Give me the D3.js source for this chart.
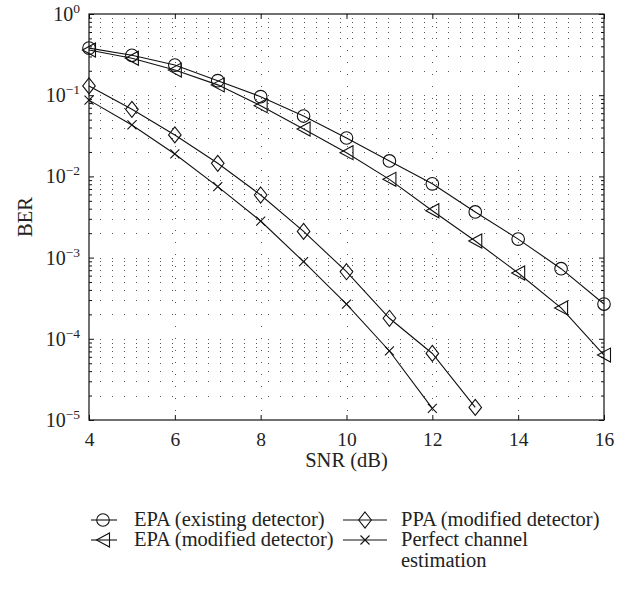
<!DOCTYPE html>
<html>
<head>
<meta charset="utf-8">
<script src="https://cdn.jsdelivr.net/npm/d3@7"></script>
<style>
html,body{margin:0;padding:0;background:#fff;}
svg{display:block;}
text{font-family:"Liberation Serif","Times New Roman",serif;fill:#222;}
</style>
</head>
<body>
<svg id="chart" width="632" height="592"></svg>
<script>
// ---- data ----
const snr = [4,5,6,7,8,9,10,11,12,13,14,15,16];
const epaExisting = [0.38,0.31,0.235,0.151,0.096,0.0554,0.0297,0.0155,0.0081,0.00365,0.00169,0.00073,0.000268];
const epaModified = [0.36,0.285,0.204,0.134,0.0743,0.0383,0.0196,0.0092,0.00378,0.0016,0.000646,0.00024,0.000063];
const ppaModified = [0.13,0.067,0.0324,0.0145,0.0059,0.0021,0.00067,0.000179,0.000066,0.0000143];
const perfect = [0.087,0.043,0.0189,0.00747,0.00282,0.00089,0.000268,0.0000708,0.0000139];
const xTicks = [4,6,8,10,12,14,16];
const yExponents = [0,-1,-2,-3,-4,-5];
const seriesNames = ["EPA (existing detector)","EPA (modified detector)","PPA (modified detector)","Perfect channel estimation"];
const xLabel = "SNR (dB)";
const yLabel = "BER";

const series = [
  {name: seriesNames[0], values: epaExisting, marker: "circle"},
  {name: seriesNames[1], values: epaModified, marker: "triangle"},
  {name: seriesNames[2], values: ppaModified, marker: "diamond"},
  {name: seriesNames[3], values: perfect, marker: "cross"}
];

// ---- layout ----
const L = 89, R = 604, T = 14, B = 420;
const svg = d3.select("#chart");
const x = d3.scaleLinear().domain([4,16]).range([L,R]);
const y = d3.scaleLog().domain([1e-5,1]).range([B,T]);

// grid
const minorVals = [];
for (let e=-5; e<0; e++) for (let m=1; m<=9; m++) minorVals.push(m*Math.pow(10,e));
const grid = svg.append("g").attr("stroke","#555").attr("stroke-width",1)
  .attr("stroke-dasharray","1,11").attr("fill","none");
grid.selectAll("line.h").data(minorVals.filter(v=>v>1e-5)).enter().append("line")
  .attr("x1",L+11).attr("x2",R).attr("y1",d=>Math.round(y(d))+0.5).attr("y2",d=>Math.round(y(d))+0.5);
grid.selectAll("line.v").data(xTicks.slice(1,-1)).enter().append("line")
  .attr("x1",d=>Math.round(x(d))+0.5).attr("x2",d=>Math.round(x(d))+0.5).attr("y1",B-9).attr("y2",T);

// axes
function styleAxis(g){ g.select(".domain").remove(); g.selectAll("line").attr("stroke","#111"); }
svg.append("g").attr("transform",`translate(0,${B})`)
  .call(d3.axisBottom(x).tickValues(xTicks).tickSize(-5).tickPadding(12).tickFormat(d3.format("d")))
  .call(styleAxis)
  .call(g=>g.selectAll("text").attr("font-size",19.5).attr("font-family","Liberation Serif").attr("fill","#222"));
svg.append("g").attr("transform",`translate(0,${T})`)
  .call(d3.axisTop(x).tickValues(xTicks).tickSize(-5).tickFormat(""))
  .call(styleAxis);
const majorY = yExponents.map(e=>Math.pow(10,e));
svg.append("g").attr("transform",`translate(${L},0)`)
  .call(d3.axisLeft(y).tickValues(minorVals.filter(v=>!majorY.includes(v))).tickSize(-3).tickFormat(""))
  .call(styleAxis);
svg.append("g").attr("transform",`translate(${R},0)`)
  .call(d3.axisRight(y).tickValues(minorVals.filter(v=>!majorY.includes(v))).tickSize(-3).tickFormat(""))
  .call(styleAxis);
svg.append("g").attr("transform",`translate(${R},0)`)
  .call(d3.axisRight(y).tickValues(majorY).tickSize(-5).tickFormat(""))
  .call(styleAxis);
svg.append("g").attr("transform",`translate(${L},0)`)
  .call(d3.axisLeft(y).tickValues(majorY).tickSize(-5).tickFormat(""))
  .call(styleAxis);
// y labels with superscript
yExponents.forEach(e=>{
  const t = svg.append("text").attr("x",L-9).attr("y",y(Math.pow(10,e))+7)
    .attr("text-anchor","end").attr("font-size",20);
  t.append("tspan").text("10");
  t.append("tspan").attr("dy",-8).attr("font-size",13.5).text(e===0?"0":"\u2212"+(-e));
});
// frame
svg.append("rect").attr("x",L).attr("y",T).attr("width",R-L).attr("height",B-T)
  .attr("fill","none").attr("stroke","#111").attr("stroke-width",1.2);

// axis titles
svg.append("text").attr("x",(L+R)/2).attr("y",467).attr("text-anchor","middle")
  .attr("font-size",20.5).text(xLabel);
svg.append("text").attr("transform",`translate(32,${(T+B)/2}) rotate(-90)`)
  .attr("text-anchor","middle").attr("font-size",20.5).text(yLabel);

// markers
function markerPath(type){
  switch(type){
    case "circle": return "M6.3,0A6.3,6.3 0 1,1 -6.3,0A6.3,6.3 0 1,1 6.3,0Z";
    case "triangle": return "M-6.5,0L6.5,-7L6.5,7Z";
    case "diamond": return "M0,-8L6.3,0L0,8L-6.3,0Z";
    case "cross": return "M-4.5,-4.5L4.5,4.5M-4.5,4.5L4.5,-4.5";
  }
}
const line = d3.line().x(d=>x(d[0])).y(d=>y(d[1]));
const plot = svg.append("g");
series.forEach(s=>{
  const pts = s.values.map((v,i)=>[snr[i],v]);
  plot.append("path").attr("d",line(pts)).attr("fill","none").attr("stroke","#111").attr("stroke-width",1.1);
  plot.selectAll(null).data(pts).enter().append("path")
    .attr("transform",d=>`translate(${x(d[0])},${y(d[1])})`)
    .attr("d",markerPath(s.marker)).attr("fill","none").attr("stroke","#111").attr("stroke-width",1.1);
});

// legend
const legendPos = [
  {lx:91, ty:520, tx:134},
  {lx:91, ty:540, tx:134},
  {lx:343, ty:520, tx:401},
  {lx:343, ty:540, tx:401}
];
series.forEach((s,i)=>{
  const p = legendPos[i];
  const w = (i<2)?26:44;
  const g = svg.append("g");
  g.append("line").attr("x1",p.lx).attr("x2",p.lx+w).attr("y1",p.ty).attr("y2",p.ty).attr("stroke","#111").attr("stroke-width",1.1);
  g.append("path").attr("transform",`translate(${i<2?p.lx+12:p.lx+w/2},${p.ty})`)
    .attr("d",markerPath(s.marker)).attr("fill","none").attr("stroke","#111").attr("stroke-width",1.1);
  const t = g.append("text").attr("x",p.tx).attr("y",p.ty+6).attr("font-size",20.5);
  if(i===3){
    t.append("tspan").attr("x",p.tx).text("Perfect channel");
    t.append("tspan").attr("x",p.tx).attr("dy",21).text("estimation");
  } else t.text(s.name);
});
</script>
</body>
</html>
